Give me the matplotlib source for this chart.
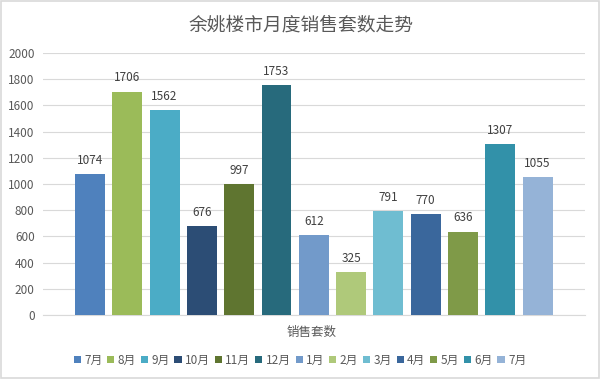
import matplotlib
matplotlib.use("Agg")
import matplotlib.pyplot as plt
from matplotlib.patches import Rectangle

plt.rcParams['font.family'] = ['Noto Sans CJK SC', 'DejaVu Sans']

title = "余姚楼市月度销售套数走势"
months = ["7月", "8月", "9月", "10月", "11月", "12月", "1月", "2月", "3月", "4月", "5月", "6月", "7月"]
values = [1074, 1706, 1562, 676, 997, 1753, 612, 325, 791, 770, 636, 1307, 1055]
colors = ["#4F81BD", "#9BBB59", "#4BACC6", "#2C4D75", "#5F7530", "#276A7C",
          "#729ACA", "#AFC97A", "#6FBDD1", "#3A679C", "#7F9A48", "#3291A9", "#95B3D7"]
xlabel = "销售套数"
yticks = list(range(0, 2001, 200))

fig = plt.figure(figsize=(6, 3.79), dpi=100)
ax = fig.add_axes([43/600, 1-315/379, (585-43)/600, (315-53)/379])

for i, (v, c, m) in enumerate(zip(values, colors, months)):
    ax.bar(i, v, width=0.8, color=c, label=m, zorder=3)
    ax.text(i, v + 55, str(v), ha='center', va='bottom', fontsize=8.5, color='#404040')

ax.set_xlim(-1.26, 13.27)
ax.set_ylim(0, 2000)
ax.set_yticks(yticks)
ax.set_yticklabels([str(t) for t in yticks], fontsize=8.5, color='#595959')
ax.set_xticks([])
ax.grid(axis='y', color='#D9D9D9', linewidth=0.8, zorder=0)
for s in ['top', 'right', 'left']:
    ax.spines[s].set_visible(False)
ax.spines['bottom'].set_color('#D9D9D9')
ax.tick_params(axis='y', length=0, pad=6)

fig.text(301/600, 1-25/379, title, ha='center', va='center', fontsize=13.5, color='#595959')
fig.text(312/600, 1-332/379, xlabel, ha='center', va='center', fontsize=9, color='#595959')

leg = fig.legend(loc='center', bbox_to_anchor=(300/600, 1-360/379), ncol=13, frameon=False,
                 fontsize=8.5, handlelength=0.6, handleheight=0.6, handletextpad=0.3,
                 columnspacing=0.4, borderaxespad=0)
for t in leg.get_texts():
    t.set_color('#595959')

fig.patches.append(Rectangle((0.002, 0.003), 0.996, 0.994, transform=fig.transFigure,
                             fill=False, edgecolor='#D9D9D9', linewidth=1.2))

fig.savefig("out.png", dpi=100)
